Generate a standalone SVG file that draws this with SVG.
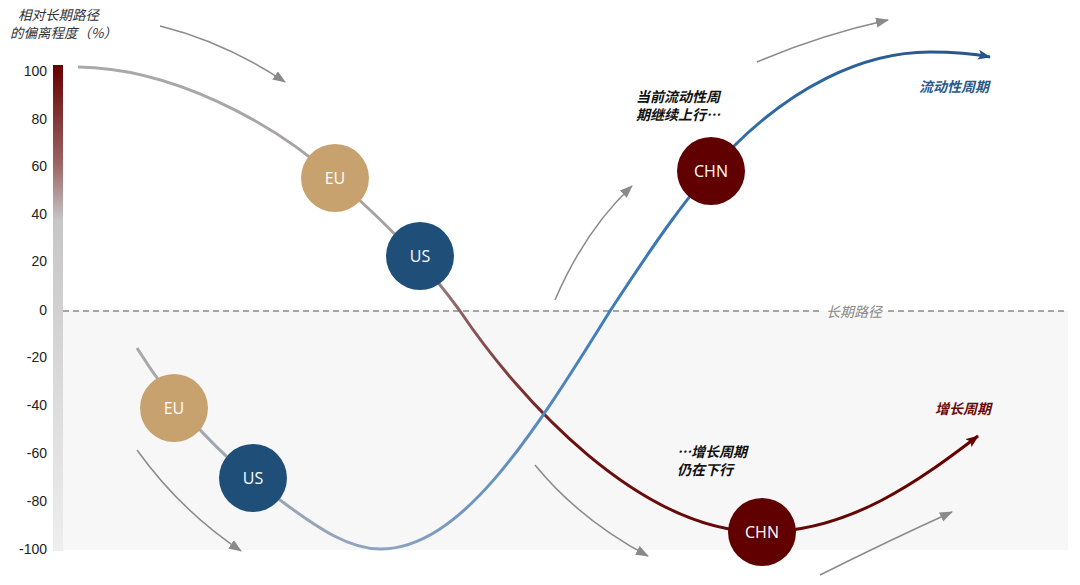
<svg xmlns="http://www.w3.org/2000/svg" width="1080" height="585" viewBox="0 0 1080 585">
<defs>
<style>
.ax{font-family:"Liberation Sans",Arial,sans-serif;font-size:14px;fill:#222;text-anchor:end}
.cn{font-family:"Noto Sans CJK SC",sans-serif;font-size:14px;font-style:italic}
.tt{font-family:"Noto Sans CJK SC",sans-serif;font-size:13.5px;font-style:italic;fill:#333}
.nd{font-family:"Open Sans","Noto Sans",sans-serif;font-size:16px;fill:#fff;text-anchor:middle}
.ga{fill:none;stroke:#8a8a8a;stroke-width:1.5}
</style>
<linearGradient id="barG" x1="0" y1="65" x2="0" y2="551" gradientUnits="userSpaceOnUse">
<stop offset="0" stop-color="#650000"/>
<stop offset="0.2" stop-color="#9a6262"/>
<stop offset="0.32" stop-color="#c6c6c6"/>
<stop offset="1" stop-color="#eeeeee"/>
</linearGradient>
<linearGradient id="redG" x1="78" y1="0" x2="978" y2="0" gradientUnits="userSpaceOnUse">
<stop offset="0" stop-color="#aaaaaa"/>
<stop offset="0.37" stop-color="#a6a0a0"/>
<stop offset="0.43" stop-color="#8a5c5c"/>
<stop offset="0.55" stop-color="#6a0e0e"/>
<stop offset="1" stop-color="#650000"/>
</linearGradient>
<linearGradient id="blueG" x1="137" y1="0" x2="990" y2="0" gradientUnits="userSpaceOnUse">
<stop offset="0" stop-color="#a8a8a8"/>
<stop offset="0.3" stop-color="#8ca4c0"/>
<stop offset="0.55" stop-color="#3f7dbb"/>
<stop offset="0.75" stop-color="#2f69a2"/>
<stop offset="1" stop-color="#24548a"/>
</linearGradient>
<marker id="ahG" markerWidth="14" markerHeight="12" refX="12" refY="5" orient="auto" markerUnits="userSpaceOnUse">
<path d="M0,0 L13,5 L0,10 z" fill="#8a8a8a"/>
</marker>
<marker id="ahB" markerWidth="14" markerHeight="12" refX="12" refY="5" orient="auto" markerUnits="userSpaceOnUse">
<path d="M0,0 L13,5 L0,10 L3,5 z" fill="#24548a"/>
</marker>
<marker id="ahR" markerWidth="14" markerHeight="12" refX="12" refY="5" orient="auto" markerUnits="userSpaceOnUse">
<path d="M0,0 L13,5 L0,10 L3,5 z" fill="#650000"/>
</marker>
</defs>
<rect width="1080" height="585" fill="#ffffff"/>
<rect x="63" y="311" width="1005" height="239" fill="#f7f7f7"/>

<g id="axis">
<rect x="53" y="65" width="10" height="486" fill="url(#barG)"/>
<text class="ax" x="47" y="76">100</text>
<text class="ax" x="47" y="124">80</text>
<text class="ax" x="47" y="171">60</text>
<text class="ax" x="47" y="219">40</text>
<text class="ax" x="47" y="266">20</text>
<text class="ax" x="47" y="315">0</text>
<text class="ax" x="47" y="362">-20</text>
<text class="ax" x="47" y="410">-40</text>
<text class="ax" x="47" y="458">-60</text>
<text class="ax" x="47" y="506">-80</text>
<text class="ax" x="47" y="554">-100</text>
<text class="tt" x="18" y="20">相对长期路径</text>
<text class="tt" x="10" y="38">的偏离程度（%）</text>
</g>

<g id="baseline">
<path d="M63,311 H820 M888,311 H1068" stroke="#8a8a8a" stroke-width="1.5" stroke-dasharray="6,4" fill="none"/>
<text class="cn" x="826" y="317" fill="#8a8a8a">长期路径</text>
</g>

<g id="connectors">
<path d="M78,67 C170,68 270,120 335,178 C380,218 420,256 460,311 C520,400 640,532 762,532 C850,532 920,480 978,436" fill="none" stroke="url(#redG)" stroke-width="3" marker-end="url(#ahR)"/>
<path d="M137,348 C175,410 230,465 280,500 C320,530 350,549 380,549 C460,549 530,440 610,311 C650,250 690,190 733,147 C790,90 860,52 930,52 C955,52 975,54 990,57" fill="none" stroke="url(#blueG)" stroke-width="3" marker-end="url(#ahB)"/>
<path class="ga" d="M160,26 Q225,42 285,82" marker-end="url(#ahG)"/>
<path class="ga" d="M555,300 Q585,230 632,186" marker-end="url(#ahG)"/>
<path class="ga" d="M757,62 Q820,35 888,20" marker-end="url(#ahG)"/>
<path class="ga" d="M137,450 Q180,510 241,551" marker-end="url(#ahG)"/>
<path class="ga" d="M535,465 Q580,520 648,556" marker-end="url(#ahG)"/>
<path class="ga" d="M820,575 Q890,540 952,512" marker-end="url(#ahG)"/>
</g>

<g id="eu-top"><circle cx="335" cy="178" r="34" fill="#c8a26e"/><text class="nd" x="335" y="184">EU</text></g>
<g id="us-top"><circle cx="420" cy="256" r="34" fill="#1f4e79"/><text class="nd" x="420" y="262">US</text></g>
<g id="eu-bottom"><circle cx="174" cy="408" r="34" fill="#c8a26e"/><text class="nd" x="174" y="414">EU</text></g>
<g id="us-bottom"><circle cx="253" cy="478" r="34" fill="#1f4e79"/><text class="nd" x="253" y="484">US</text></g>
<g id="chn-top"><circle cx="711" cy="171" r="34" fill="#600000"/><text class="nd" x="711" y="177">CHN</text></g>
<g id="chn-bottom"><circle cx="762" cy="532" r="34" fill="#600000"/><text class="nd" x="762" y="538">CHN</text></g>

<g id="labels">
<text class="cn" x="636" y="102" fill="#111" font-weight="bold">当前流动性周</text>
<text class="cn" x="636" y="120" fill="#111" font-weight="bold">期继续上行…</text>
<text class="cn" x="919" y="92" fill="#2a5a8a" font-weight="bold">流动性周期</text>
<text class="cn" x="935" y="414" fill="#6b0a0a" font-weight="bold">增长周期</text>
<text class="cn" x="677" y="457" fill="#111" font-weight="bold">…增长周期</text>
<text class="cn" x="677" y="475" fill="#111" font-weight="bold">仍在下行</text>
</g>
</svg>
